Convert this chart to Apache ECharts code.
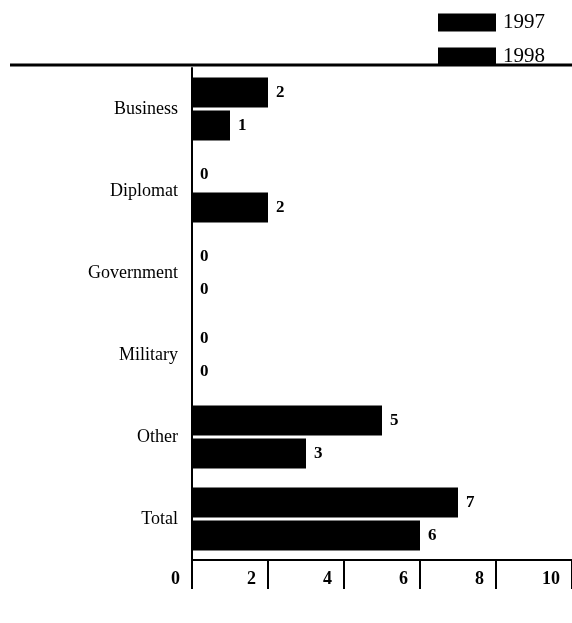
<!DOCTYPE html>
<html>
<head>
<meta charset="utf-8">
<script src="https://cdn.jsdelivr.net/npm/echarts@6/dist/echarts.min.js"></script>
<style>
  html, body { margin: 0; padding: 0; background: #fff; }
  #main { width: 572px; height: 623px; }
</style>
</head>
<body>
<div id="main"></div>
<script>
var categories = ["Business", "Diplomat", "Government", "Military", "Other", "Total"];
var data1997 = [2, 0, 0, 0, 5, 7];
var data1998 = [1, 2, 0, 0, 3, 6];
var xTicks = [0, 2, 4, 6, 8, 10];

var chart = echarts.init(document.getElementById("main"));
var serif = "Liberation Serif";

function barSeries(name, values) {
  return {
    name: name,
    type: "bar",
    data: values,
    barGap: "10%",
    barCategoryGap: "23%",
    itemStyle: { color: "#000" },
    label: {
      show: true,
      position: "right",
      distance: 8,
      color: "#000",
      fontFamily: serif,
      fontWeight: "bold",
      fontSize: 17
    }
  };
}

var option = {
  animation: false,
  backgroundColor: "#fff",
  legend: {
    orient: "vertical",
    right: 22,
    top: 7,
    itemWidth: 58,
    itemHeight: 18,
    itemGap: 13,
    itemStyle: { borderWidth: 0 },
    icon: "rect",
    textStyle: { fontFamily: serif, fontSize: 21, color: "#000", padding: [0, 0, 0, 2] },
    data: ["1997", "1998"]
  },
  grid: { left: 192, right: 0, top: 68, bottom: 63 },
  xAxis: {
    type: "value",
    min: xTicks[0],
    max: xTicks[xTicks.length - 1],
    interval: 2,
    splitLine: { show: false },
    axisLine: { show: true, lineStyle: { color: "#000", width: 2 } },
    axisTick: { show: true, length: 29, lineStyle: { color: "#000", width: 2 } },
    axisLabel: {
      color: "#000",
      fontFamily: serif,
      fontWeight: "bold",
      fontSize: 18,
      align: "right",
      margin: 10,
      padding: [0, 12, 0, 0]
    }
  },
  yAxis: {
    type: "category",
    data: categories,
    inverse: true,
    axisLine: { show: true, lineStyle: { color: "#000", width: 2 } },
    axisTick: { show: false },
    axisLabel: {
      color: "#000",
      fontFamily: serif,
      fontSize: 18,
      margin: 14
    }
  },
  graphic: [
    {
      type: "line",
      shape: { x1: 10, y1: 65, x2: 572, y2: 65 },
      style: { stroke: "#000", lineWidth: 3 }
    }
  ],
  series: [barSeries("1997", data1997), barSeries("1998", data1998)]
};

chart.setOption(option);
</script>
</body>
</html>
